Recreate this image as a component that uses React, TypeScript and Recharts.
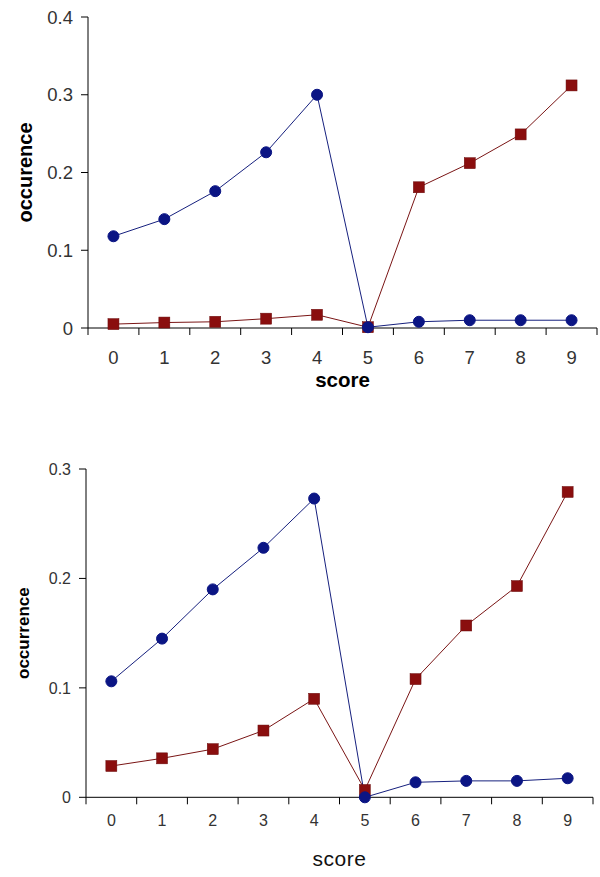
import React from "react";
import { LineChart, Line, XAxis, YAxis } from "recharts";

// score categories 0..9
const scores = [0, 1, 2, 3, 4, 5, 6, 7, 8, 9];

// upper panel
const topBlue = [0.118, 0.14, 0.176, 0.226, 0.3, 0.001, 0.008, 0.01, 0.01, 0.01];
const topRed = [0.005, 0.007, 0.008, 0.012, 0.017, 0.001, 0.181, 0.212, 0.249, 0.312];
const topYTicks = [0, 0.1, 0.2, 0.3, 0.4];

// lower panel
const bottomBlue = [0.106, 0.145, 0.19, 0.228, 0.273, 0.0, 0.0137, 0.015, 0.015, 0.0174];
const bottomRed = [0.0286, 0.0356, 0.044, 0.061, 0.09, 0.0067, 0.108, 0.157, 0.193, 0.279];
const bottomYTicks = [0, 0.1, 0.2, 0.3];

// tick marks sit between the categories
const bandEdges = [-0.5, 0.5, 1.5, 2.5, 3.5, 4.5, 5.5, 6.5, 7.5, 8.5, 9.5];

const BLUE = "#0B1584";
const RED = "#8A0E0E";
const FONT = "'Liberation Sans', Arial, sans-serif";

const Square = (props: any) => {
  const { cx, cy, index } = props;
  if (cx == null || cy == null) return <g key={index} />;
  return (
    <rect key={index} x={cx - 5.5} y={cy - 5.5} width={11} height={11} fill={RED} stroke="#6a0a0a" strokeWidth={0.5} />
  );
};

type PanelProps = {
  blue: number[];
  red: number[];
  yTicks: number[];
  width: number;
  height: number;
  margin: { top: number; right: number; left: number; bottom: number };
  yWidth: number;
  tickFont: number;
  xTickMargin: number;
  xLabelHeight: number;
  yLabel: string;
  yLabelFont: number;
  yLabelOffset: number;
  xLabelStyle: React.CSSProperties;
};

function Panel(p: PanelProps) {
  const data = scores.map((s, i) => ({ score: s, blue: p.blue[i], red: p.red[i] }));
  const yMax = p.yTicks[p.yTicks.length - 1];
  return (
    <LineChart width={p.width} height={p.height} data={data} margin={p.margin}>
      <XAxis
        xAxisId="edges"
        dataKey="score"
        type="number"
        domain={[-0.5, 9.5]}
        allowDataOverflow
        ticks={bandEdges}
        interval={0}
        tickFormatter={() => ""}
        tickSize={7}
        height={1}
        axisLine={{ stroke: "#000" }}
        tickLine={{ stroke: "#000" }}
      />
      <XAxis
        xAxisId="labels"
        dataKey="score"
        type="number"
        domain={[-0.5, 9.5]}
        allowDataOverflow
        ticks={scores}
        interval={0}
        axisLine={false}
        tickLine={false}
        tickSize={0}
        tickMargin={p.xTickMargin}
        height={p.xLabelHeight}
        tick={{ fill: "#333", fontSize: p.tickFont, fontFamily: FONT }}
        label={{ value: "score", position: "insideBottom", offset: 0, style: p.xLabelStyle }}
      />
      <YAxis
        width={p.yWidth}
        domain={[0, yMax]}
        ticks={p.yTicks}
        interval={0}
        tickSize={7}
        tickMargin={8}
        axisLine={{ stroke: "#000" }}
        tickLine={{ stroke: "#000" }}
        tick={{ fill: "#333", fontSize: p.tickFont, fontFamily: FONT }}
        label={{
          value: p.yLabel,
          angle: -90,
          position: "insideLeft",
          offset: p.yLabelOffset,
          style: { textAnchor: "middle", fontWeight: "bold", fontSize: p.yLabelFont, fontFamily: FONT, fill: "#000" },
        }}
      />
      <Line
        xAxisId="labels"
        dataKey="red"
        stroke="#7a1515"
        strokeWidth={1}
        dot={Square}
        activeDot={false}
        isAnimationActive={false}
      />
      <Line
        xAxisId="labels"
        dataKey="blue"
        stroke="#16207e"
        strokeWidth={1}
        dot={{ r: 5.5, fill: BLUE, stroke: BLUE, strokeWidth: 1 }}
        activeDot={false}
        isAnimationActive={false}
      />
    </LineChart>
  );
}

export default function App() {
  return (
    <div style={{ position: "absolute", left: 0, top: 0, width: 600, height: 877, background: "#fff" }}>
      <Panel
        blue={topBlue}
        red={topRed}
        yTicks={topYTicks}
        width={600}
        height={400}
        margin={{ top: 17, right: 3, left: 0, bottom: 13 }}
        yWidth={88}
        tickFont={18.5}
        xTickMargin={22}
        xLabelHeight={58}
        yLabel="occurence"
        yLabelFont={20}
        yLabelOffset={25}
        xLabelStyle={{ fontWeight: "bold", fontSize: 20.5, fontFamily: FONT, fill: "#000" }}
      />
      <Panel
        blue={bottomBlue}
        red={bottomRed}
        yTicks={bottomYTicks}
        width={600}
        height={477}
        margin={{ top: 69, right: 7, left: 0, bottom: 11 }}
        yWidth={86}
        tickFont={16}
        xTickMargin={16.7}
        xLabelHeight={67.7}
        yLabel="occurrence"
        yLabelFont={17}
        yLabelOffset={23}
        xLabelStyle={{ fontSize: 21, fontFamily: FONT, fill: "#111", letterSpacing: 0.5 }}
      />
    </div>
  );
}
